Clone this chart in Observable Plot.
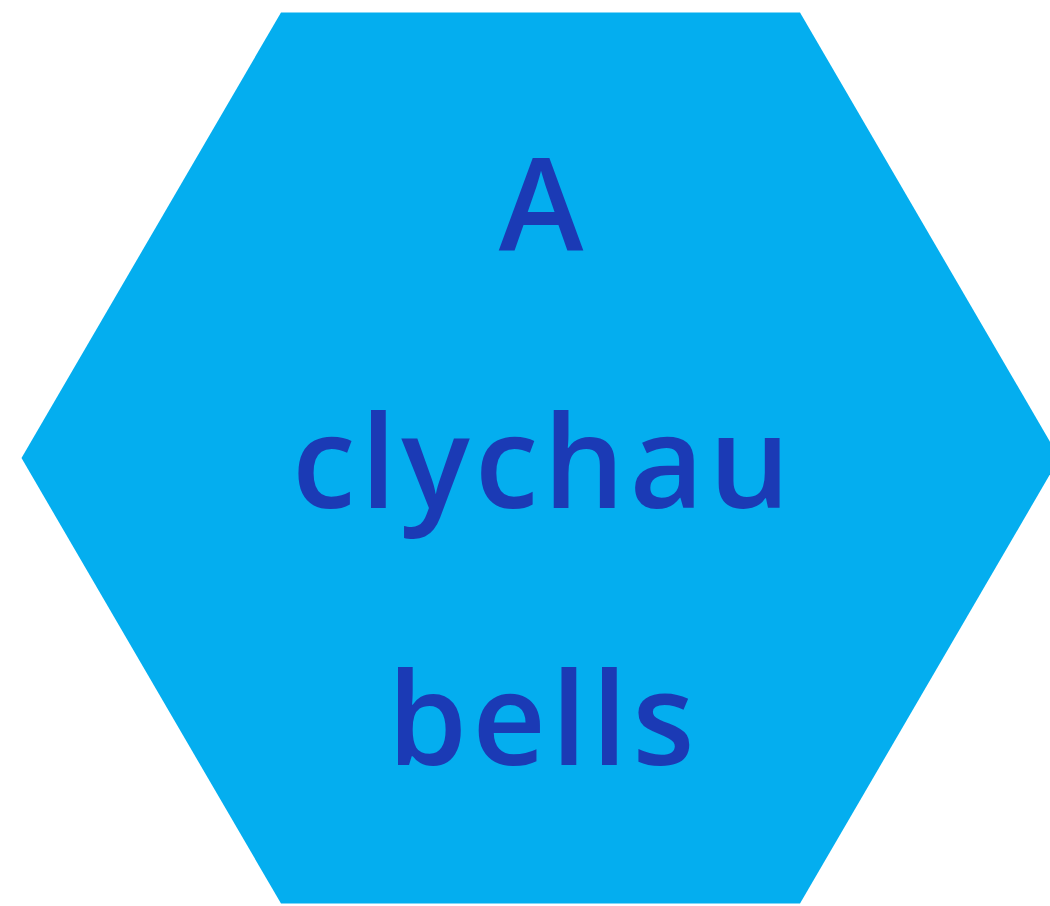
<!DOCTYPE html>
<html>
<head>
<meta charset="utf-8">
<script src="https://cdn.jsdelivr.net/npm/d3@7"></script>
<script src="https://cdn.jsdelivr.net/npm/@observablehq/plot@0.6"></script>
<style>
  html, body { margin: 0; padding: 0; background: #ffffff; overflow: hidden; }
  .hex-label text { letter-spacing: 5px; }
</style>
</head>
<body>
<div id="chart"></div>
<script>
// Unit hexagon (flat-top) vertices
const hexX = [-1, -0.5, 0.5, 1, 0.5, -0.5, -1];
const hexY = [0, Math.sqrt(3) / 2, Math.sqrt(3) / 2, 0, -Math.sqrt(3) / 2, -Math.sqrt(3) / 2, 0];
const labels = ["A", "clychau", "bells"];

const hex = hexX.map((x, i) => ({x, y: hexY[i]}));
const h = Math.sqrt(3) / 2;

const chart = Plot.plot({
  width: 1050,
  height: 906,
  margin: 0,
  style: {background: "#ffffff", overflow: "hidden"},
  x: {domain: [-1, 1], range: [21, 1059], axis: null},
  y: {domain: [-h, h], range: [903, 12], axis: null},
  marks: [
    Plot.line(hex, {x: "x", y: "y", fill: "#04aeef", stroke: "none", clip: true}),
    Plot.text([labels.join("\n")], {
      x: () => 0,
      y: () => 0,
      text: d => d,
      fontSize: 128,
      lineHeight: 257 / 128,
      fontFamily: "Open Sans",
      fontWeight: 600,
      fill: "#1b3ab5",
      dy: -32,
      dx: 3,
      className: "hex-label"
    })
  ]
});
document.getElementById("chart").appendChild(chart);
</script>
</body>
</html>
